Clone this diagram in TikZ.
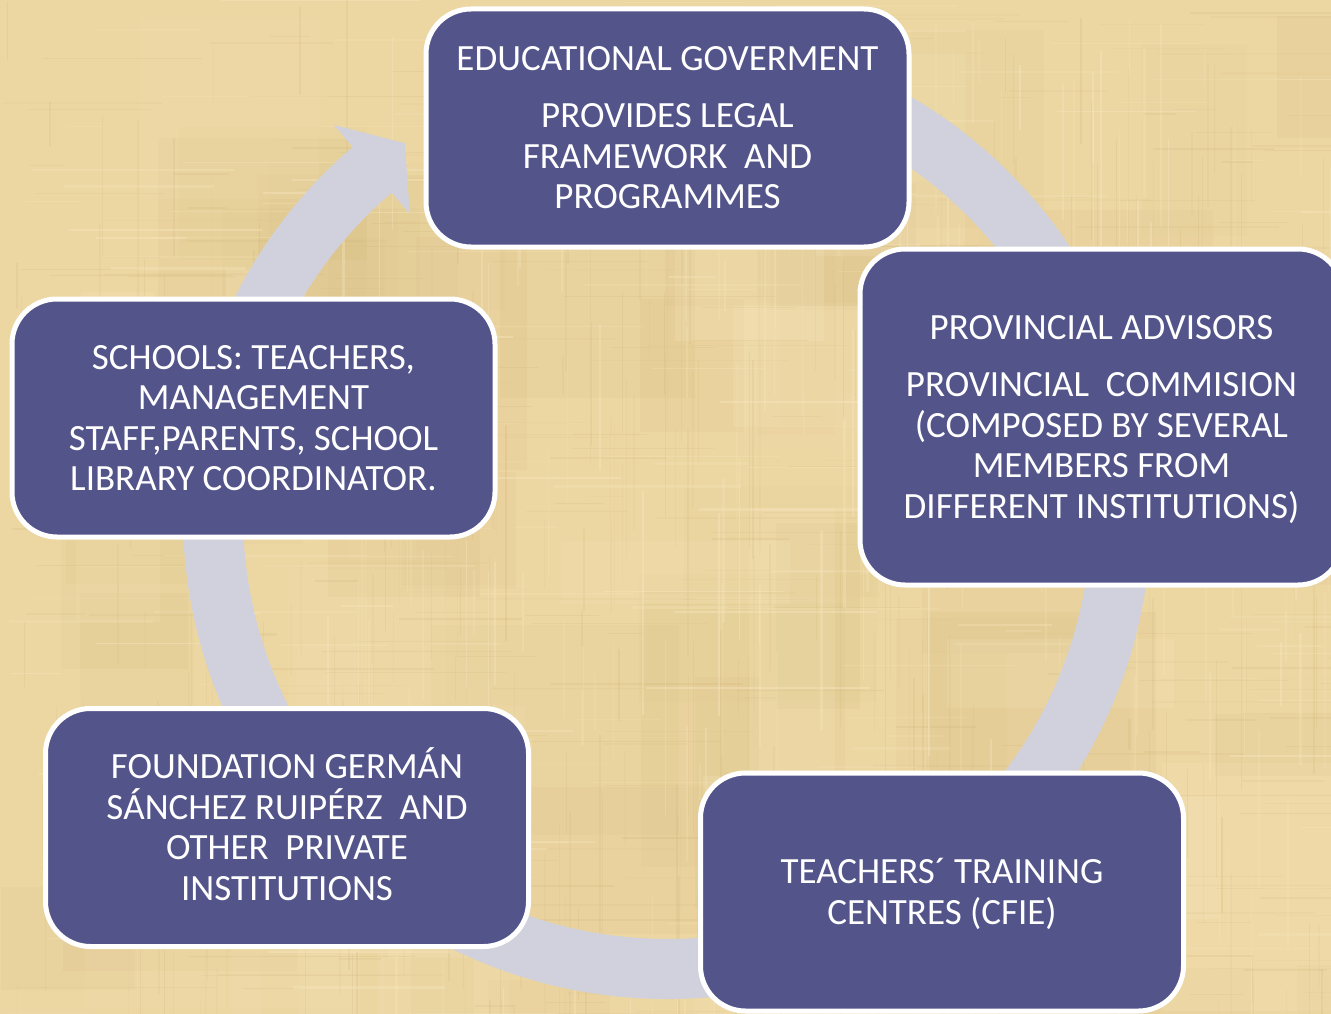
\documentclass[tikz,border=0pt]{standalone}
\usepackage{fontspec}
\setmainfont{Carlito}
\definecolor{paper}{RGB}{236,214,162}
\definecolor{paperdark}{RGB}{206,178,118}
\definecolor{paperlight}{RGB}{248,232,192}
\definecolor{ringgray}{RGB}{208,209,220}
\definecolor{boxfill}{RGB}{83,84,138}
\tikzset{
  cyclebox/.style={draw=white, line width=5pt, fill=boxfill, rounded corners=45pt,
    minimum width=483pt, minimum height=238pt, inner sep=0pt, text=white, align=center,
    font=\fontsize{37}{40.5}\selectfont},
  ringarrow/.style={fill=ringgray, draw=none}
}
\begin{document}
\begin{tikzpicture}[x=1pt,y=1pt]
\useasboundingbox (0,0) rectangle (1331,-1014);
\clip (0,0) rectangle (1331,-1014);
% parchment background
\fill[paper] (0,0) rectangle (1331,-1014);
\pgfmathsetseed{11}
\foreach \i in {1,...,50}{
  \pgfmathsetmacro\xa{rnd*1331}
  \pgfmathsetmacro\ya{-rnd*1014}
  \pgfmathsetmacro\wa{60+rnd*220}
  \pgfmathsetmacro\ha{60+rnd*220}
  \pgfmathsetmacro\op{0.04+rnd*0.08}
  \fill[paperdark, opacity=\op] (\xa,\ya) rectangle ++(\wa,-\ha);
}
\foreach \i in {1,...,30}{
  \pgfmathsetmacro\xa{rnd*1331}
  \pgfmathsetmacro\ya{-rnd*1014}
  \pgfmathsetmacro\wa{60+rnd*220}
  \pgfmathsetmacro\ha{60+rnd*220}
  \pgfmathsetmacro\op{0.08+rnd*0.14}
  \fill[paperlight, opacity=\op] (\xa,\ya) rectangle ++(\wa,-\ha);
}
\foreach \i in {1,...,320}{
  \pgfmathsetmacro\xa{rnd*1331}
  \pgfmathsetmacro\ya{-rnd*1014}
  \pgfmathsetmacro\ln{30+rnd*200}
  \pgfmathsetmacro\lw{0.6+rnd*1.6}
  \pgfmathsetmacro\op{0.06+rnd*0.16}
  \draw[paperdark, line width=\lw pt, opacity=\op] (\xa,\ya) -- ++(\ln,0);
}
\foreach \i in {1,...,320}{
  \pgfmathsetmacro\xa{rnd*1331}
  \pgfmathsetmacro\ya{-rnd*1014}
  \pgfmathsetmacro\ln{30+rnd*200}
  \pgfmathsetmacro\lw{0.6+rnd*1.6}
  \pgfmathsetmacro\op{0.06+rnd*0.16}
  \draw[paperdark, line width=\lw pt, opacity=\op] (\xa,\ya) -- ++(0,-\ln);
}
\foreach \i in {1,...,200}{
  \pgfmathsetmacro\xa{rnd*1331}
  \pgfmathsetmacro\ya{-rnd*1014}
  \pgfmathsetmacro\ln{30+rnd*200}
  \pgfmathsetmacro\lw{0.8+rnd*1.8}
  \pgfmathsetmacro\op{0.15+rnd*0.25}
  \draw[paperlight, line width=\lw pt, opacity=\op] (\xa,\ya) -- ++(\ln,0);
  \draw[paperlight, line width=\lw pt, opacity=\op] (\ya+1331,-\xa*0.76) -- ++(0,-\ln);
}
% circular arrow ring
\begin{scope}[shift={(667,-515)}]
\fill[ringarrow] (85:484pt) arc[start angle=85, end angle=-229.5, radius=484pt]
  -- (130.5:513pt) -- (125.2:455pt) -- (130.5:396pt) -- (130.5:424pt)
  arc[start angle=-229.5, end angle=85, radius=424pt] -- cycle;
\end{scope}
% boxes
\node[cyclebox] (gov) at (667.5,-128) {EDUCATIONAL GOVERMENT\\[16.5pt]PROVIDES LEGAL\\FRAMEWORK\ \ AND\\PROGRAMMES};
\node[cyclebox, minimum height=336pt] (prov) at (1101.5,-417) {PROVINCIAL ADVISORS\\[16.5pt]PROVINCIAL\ \ COMMISION\\(COMPOSED BY SEVERAL\\MEMBERS FROM\\DIFFERENT INSTITUTIONS\smash{)}};
\node[cyclebox] (cfie) at (942,-892) {TEACHERS\smash{´} TRAINING\\CENTRES \smash{(CFIE)}};
\node[cyclebox] (found) at (287,-827.5) {FOUNDATION GERM\smash{Á}N\\S\smash{Á}NCHEZ RUIP\smash{É}RZ\ \ AND\\OTHER\ \ PRIVATE\\INSTITUTIONS};
\node[cyclebox] (schools) at (253.5,-418) {SCHOOLS: TEACHERS,\\MANAGEMENT\\STAFF,PARENTS, SCHOOL\\LIBRARY COORDINATOR.};
\end{tikzpicture}
\end{document}
